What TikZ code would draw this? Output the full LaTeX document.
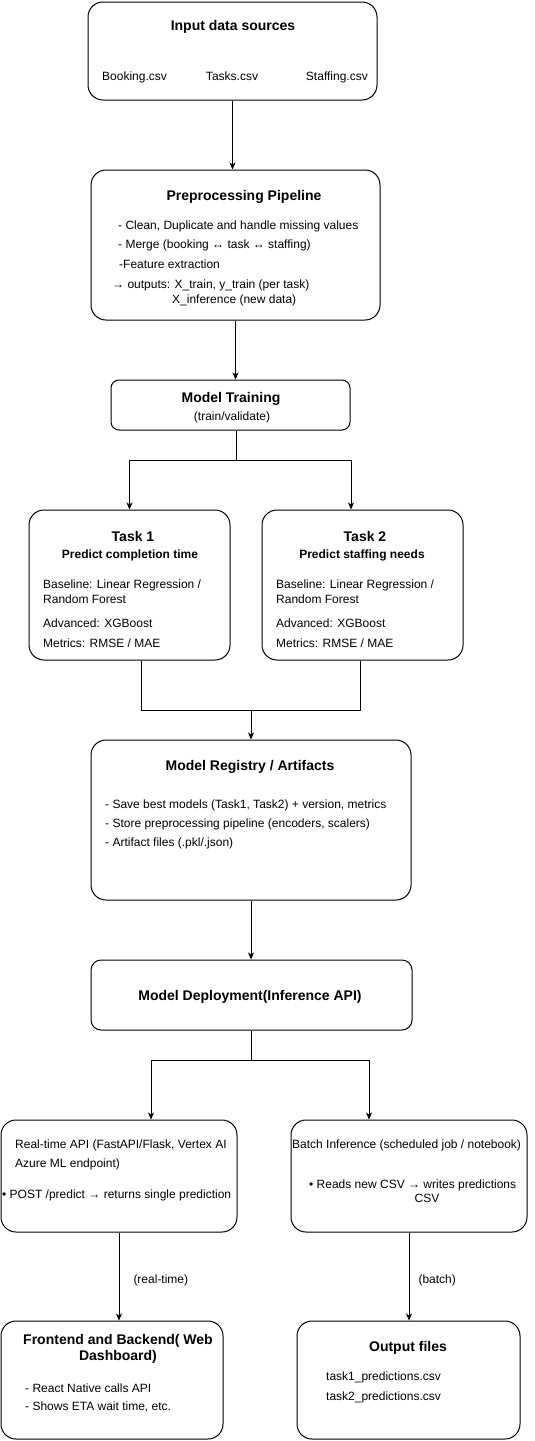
\documentclass[tikz,border=0pt]{standalone}
\usepackage{fontspec}
\setmainfont{Liberation Sans}
\usetikzlibrary{positioning, arrows.meta}

\begin{document}
\begin{tikzpicture}[
        x=1pt, y=-1pt,
        box/.style={draw, line width=1pt, rounded corners=15pt, inner sep=0pt},
        ttl/.style={font=\fontsize{14}{16}\selectfont\bfseries, inner sep=0pt, align=center, text height=10.5pt, text depth=3pt},
        sub/.style={font=\fontsize{12}{14}\selectfont\bfseries, inner sep=0pt, text height=9pt, text depth=2.5pt},
        txt/.style={font=\fontsize{12}{14}\selectfont, inner sep=0pt, anchor=west, text height=9pt, text depth=2.5pt},
        ctxt/.style={font=\fontsize{12}{14}\selectfont, inner sep=0pt, text height=9pt, text depth=2.5pt},
        arr/.style={-{Stealth[length=7pt, width=6pt, inset=2pt]}, line width=1pt},
        lin/.style={line width=1pt}
    ]
    \fill[white] (0,0) rectangle (535,1441);
    \useasboundingbox (0,0) rectangle (535,1441);

    % Input data
    \node[box, minimum width=289pt, minimum height=98pt] (inp) at (232.5,51) {};
    \node[ttl] (inpt) at (233,27) {Input data sources};
    \node[txt] (f1) at (102,77) {Booking.csv};
    \node[ctxt] (f2) at (232,77) {Tasks.csv};
    \node[ctxt, anchor=east] (f3) at (368,77) {Staffing.csv};

    % Preprocessing
    \node[box, minimum width=289pt, minimum height=150pt] (pre) at (235.5,245) {};
    \node[ttl] (pret) at (244,197) {Preprocessing Pipeline};
    \node[txt] (p1) at (118,226) {- Clean, Duplicate and handle missing values};
    \node[txt] (p2) at (118,245) {- Merge (booking ↔ task ↔ staffing)};
    \node[txt] (p3) at (119,265) {-Feature extraction};
    \node[txt] (p4) at (112,285) {→ outputs: X\_train, y\_train (per task)};
    \node[txt] (p5) at (172,300) {X\_inference (new data)};

    % Training
    \node[box, rounded corners=8pt, minimum width=239pt, minimum height=50pt] (train) at (230.5,405) {};
    \node[ttl] (traint) at (231,399) {Model Training};
    \node[ctxt] (trains) at (232,417) {(train/validate)};

    % Task 1 / Task 2
    \node[box, minimum width=201pt, minimum height=150pt] (t1) at (129.5,585) {};
    \node[ttl] (t1t) at (133,538) {Task 1};
    \node[sub] (t1s) at (130,555) {Predict completion time};
    \node[txt] (t1a) at (43,585) {Baseline: Linear Regression /};
    \node[txt] (t1b) at (43,600) {Random Forest};
    \node[txt] (t1c) at (43,624) {Advanced: XGBoost};
    \node[txt] (t1d) at (43,644) {Metrics: RMSE / MAE};

    \node[box, minimum width=201pt, minimum height=150pt] (t2) at (362.5,585) {};
    \node[ttl] (t2t) at (365,538) {Task 2};
    \node[sub] (t2s) at (362,555) {Predict staffing needs};
    \node[txt] (t2a) at (276,585) {Baseline: Linear Regression /};
    \node[txt] (t2b) at (276,600) {Random Forest};
    \node[txt] (t2c) at (276,624) {Advanced: XGBoost};
    \node[txt] (t2d) at (276,644) {Metrics: RMSE / MAE};

    % Registry
    \node[box, minimum width=320pt, minimum height=160pt] (reg) at (251,820) {};
    \node[ttl] (regt) at (250,767) {Model Registry / Artifacts};
    \node[txt] (r1) at (105,805) {- Save best models (Task1, Task2) + version, metrics};
    \node[txt] (r2) at (105,824) {- Store preprocessing pipeline (encoders, scalers)};
    \node[txt] (r3) at (105,843) {- Artifact files (.pkl/.json)};

    % Deployment
    \node[box, rounded corners=10pt, minimum width=321pt, minimum height=70pt] (dep) at (251.5,995) {};
    \node[ttl] (dept) at (250,997) {Model Deployment(Inference API)};

    % Real-time / batch
    \node[box, minimum width=236pt, minimum height=112pt] (rt) at (119,1176) {};
    \node[txt] (rt1) at (15,1145) {Real-time API (FastAPI/Flask, Vertex AI};
    \node[txt] (rt2) at (15,1164) {Azure ML endpoint)};
    \node[txt] (rt3) at (2,1195) {• POST /predict → returns single prediction};

    \node[box, minimum width=236pt, minimum height=112pt] (bat) at (409,1176) {};
    \node[txt] (b1) at (292,1145) {Batch Inference (scheduled job / notebook)};
    \node[txt] (b2) at (309,1185) {• Reads new CSV → writes predictions};
    \node[ctxt] (b3) at (427,1199) {CSV};

    % Consumers
    \node[box, minimum width=222pt, minimum height=118pt] (fe) at (112,1380) {};
    \node[ttl] (fet) at (118,1357) {Frontend and Backend( Web\\Dashboard)};
    \node[txt] (fe1) at (25,1389) {- React Native calls API};
    \node[txt] (fe2) at (25,1407) {- Shows ETA wait time, etc.};

    \node[box, minimum width=223pt, minimum height=118pt] (out) at (408.5,1380) {};
    \node[ttl] (outt) at (408,1348) {Output files};
    \node[txt] (o1) at (326,1377) {task1\_predictions.csv};
    \node[txt] (o2) at (326,1397) {task2\_predictions.csv};

    % connectors
    \coordinate (tsplit) at (236,460);
    \coordinate (tjoin) at (251,710);
    \coordinate (dsplit) at (251.5,1060);

    \draw[arr] (inp.south) -- (inp.south |- pre.north);
    \draw[arr] (pre.south) -- (pre.south |- train.north);
    \draw[lin] (train.south -| tsplit) -- (tsplit);
    \draw[arr] (tsplit) -| (t1.north);
    \draw[arr] (tsplit) -| ([xshift=-11.5pt]t2.north);
    \draw[lin] ([xshift=11.5pt]t1.south) |- (tjoin) -| ([xshift=-2.5pt]t2.south);
    \draw[arr] (tjoin) -- (tjoin |- reg.north);
    \draw[arr] (reg.south) -- (reg.south |- dep.north);
    \draw[lin] (dep.south) -- (dsplit);
    \draw[arr] (dsplit) -| ([xshift=32pt]rt.north);
    \draw[arr] (dsplit) -| ([xshift=-40pt]bat.north);
    \draw[arr] (rt.south) -- node[ctxt, anchor=west, xshift=14pt, yshift=-3.5pt] {(real-time)} (rt.south |- fe.north);
    \draw[arr] (bat.south) -- node[ctxt, anchor=west, xshift=9pt, yshift=-3.5pt] {(batch)} (bat.south |- out.north);
\end{tikzpicture}
\end{document}
